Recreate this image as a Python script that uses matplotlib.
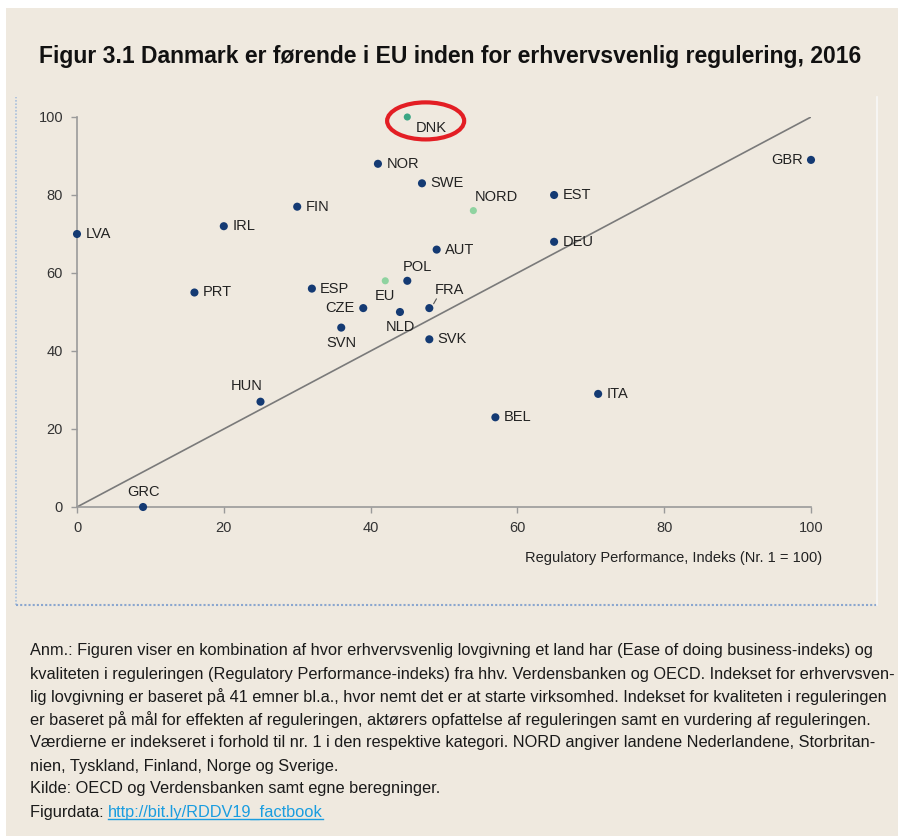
import matplotlib
matplotlib.use('Agg')
import matplotlib.pyplot as plt
from matplotlib.patches import Ellipse, Rectangle
import numpy as np

plt.rcParams['font.family'] = ['Liberation Sans', 'DejaVu Sans']

# data
countries = ['DNK', 'NOR', 'SWE', 'NORD', 'EST', 'DEU', 'GBR', 'FIN', 'IRL', 'LVA',
             'AUT', 'POL', 'EU', 'ESP', 'PRT', 'CZE', 'NLD', 'FRA', 'SVN', 'SVK',
             'HUN', 'BEL', 'ITA', 'GRC']
reg_perf = [45, 41, 47, 54, 65, 65, 100, 30, 20, 0,
            49, 45, 42, 32, 16, 39, 44, 48, 36, 48,
            25, 57, 71, 9]
ease_business = [100, 88, 83, 76, 80, 68, 89, 77, 72, 70,
                 66, 58, 58, 56, 55, 51, 50, 51, 46, 43,
                 27, 23, 29, 0]

title = 'Figur 3.1 Danmark er førende i EU inden for erhvervsvenlig regulering, 2016'
xlabel = 'Regulatory Performance, Indeks (Nr. 1 = 100)'
note_lines = [
    'Anm.: Figuren viser en kombination af hvor erhvervsvenlig lovgivning et land har (Ease of doing business-indeks) og',
    'kvaliteten i reguleringen (Regulatory Performance-indeks) fra hhv. Verdensbanken og OECD. Indekset for erhvervsven-',
    'lig lovgivning er baseret på 41 emner bl.a., hvor nemt det er at starte virksomhed. Indekset for kvaliteten i reguleringen',
    'er baseret på mål for effekten af reguleringen, aktørers opfattelse af reguleringen samt en vurdering af reguleringen.',
    'Værdierne er indekseret i forhold til nr. 1 i den respektive kategori. NORD angiver landene Nederlandene, Storbritan-',
    'nien, Tyskland, Finland, Norge og Sverige.',
    'Kilde: OECD og Verdensbanken samt egne beregninger.',
]
link_text = 'http://bit.ly/RDDV19_factbook'

# styling
bg = '#efe9df'
navy = '#143a73'
light_green = '#8fd3a0'
teal = '#3aa684'
special_color = {'DNK': teal, 'NORD': light_green, 'EU': light_green}
note_font = ['Liberation Sans Narrow', 'Liberation Sans']
note_size = 11.8

# label offsets in points (dx, dy, ha, va)
label_pos = {
    'DNK': (6, -3, 'left', 'top'), 'NOR': (6, 0, 'left', 'center'),
    'SWE': (6, 0, 'left', 'center'), 'NORD': (1, 5, 'left', 'bottom'),
    'EST': (6, 0, 'left', 'center'), 'DEU': (6, 0, 'left', 'center'),
    'GBR': (-6, 0, 'right', 'center'), 'FIN': (6, 0, 'left', 'center'),
    'IRL': (6, 0, 'left', 'center'), 'LVA': (6, 0, 'left', 'center'),
    'AUT': (6, 0, 'left', 'center'), 'POL': (-3, 5, 'left', 'bottom'),
    'EU': (0, -6, 'center', 'top'), 'ESP': (6, 0, 'left', 'center'),
    'PRT': (6, 0, 'left', 'center'), 'CZE': (-6, 0, 'right', 'center'),
    'NLD': (0, -6, 'center', 'top'), 'FRA': (4, 8, 'left', 'bottom'),
    'SVN': (0, -6, 'center', 'top'), 'SVK': (6, 0, 'left', 'center'),
    'HUN': (-10, 6, 'center', 'bottom'), 'BEL': (6, 0, 'left', 'center'),
    'ITA': (6, 0, 'left', 'center'), 'GRC': (0, 6, 'center', 'bottom'),
}

fig = plt.figure(figsize=(8.98, 8.36), dpi=100, facecolor=bg)

# white margins at top and left of the page
fig.patches.append(Rectangle((0, 1 - 8 / 836), 1, 8 / 836, transform=fig.transFigure,
                             facecolor='white', edgecolor='none', zorder=0))
fig.patches.append(Rectangle((0, 0), 6 / 898, 1, transform=fig.transFigure,
                             facecolor='white', edgecolor='none', zorder=0))

# dotted frame around chart
x0, x1 = 16 / 898, 877 / 898
y0, y1 = 1 - 605 / 836, 1 - 97 / 836
fig.add_artist(plt.Line2D([x0, x0], [y0, y1], transform=fig.transFigure,
                          color='#a9c0dd', lw=1.2, ls=(0, (1, 1))))
fig.add_artist(plt.Line2D([x0, x1], [y0, y0], transform=fig.transFigure,
                          color='#8aa6cf', lw=1.5, ls=(0, (1, 1))))
fig.add_artist(plt.Line2D([x1, x1], [y0, y1], transform=fig.transFigure,
                          color='#f8f8f8', lw=1.2))

fig.text(450 / 898, 1 - 57 / 836, title, ha='center', va='center',
         fontsize=16.5, fontweight='bold', color='#111111')

ax = fig.add_axes([77 / 898, 1 - 507 / 836, (811 - 77) / 898, (507 - 117) / 836])
ax.set_facecolor(bg)
ax.set_xlim(0, 100)
ax.set_ylim(0, 100)
ax.set_xticks(np.arange(0, 101, 20))
ax.set_yticks(np.arange(0, 101, 20))
for s in ['top', 'right']:
    ax.spines[s].set_visible(False)
for s in ['left', 'bottom']:
    ax.spines[s].set_color('#9a9a9a')
    ax.spines[s].set_linewidth(1.2)
ax.tick_params(axis='both', length=4, width=1, color='#9a9a9a', labelsize=10.5,
               labelcolor='#333333', pad=6)

ax.plot([0, 100], [0, 100], color='#7a7a7a', lw=1.2, zorder=1)

colors = [special_color.get(c, navy) for c in countries]
sizes = [26 if c in special_color else 34 for c in countries]
ax.scatter(reg_perf, ease_business, s=sizes, c=colors, zorder=3, clip_on=False,
           edgecolors='none')

for c, x, y in zip(countries, reg_perf, ease_business):
    dx, dy, ha, va = label_pos[c]
    ax.annotate(c, (x, y), xytext=(dx, dy), textcoords='offset points', ha=ha, va=va,
                fontsize=10.5, color='#222222', zorder=4, annotation_clip=False)

# leader line for FRA
ax.annotate('', xy=(reg_perf[countries.index('FRA')] + 0.4, ease_business[countries.index('FRA')] + 0.5),
            xytext=(4, 7), textcoords='offset points',
            arrowprops=dict(arrowstyle='-', color='#555555', lw=0.8))

# red ellipse around DNK
ax.add_patch(Ellipse((47.5, 99), 10.5, 9.5, fill=False, edgecolor='#e31e24', lw=3,
                     clip_on=False, zorder=5))

ax.set_xlabel(xlabel, fontsize=10.5, color='#222222')
ax.xaxis.set_label_coords(1.015, -0.113, transform=ax.transAxes)
ax.xaxis.label.set_ha('right')

# notes
for i, line in enumerate(note_lines):
    fig.text(30 / 898, 1 - (651 + i * 23) / 836, line, ha='left', va='center',
             fontsize=note_size, color='#1a1a1a', family=note_font)
ly = 1 - (651 + len(note_lines) * 23) / 836
t = fig.text(30 / 898, ly, 'Figurdata: ', ha='left', va='center', fontsize=note_size,
             color='#1a1a1a', family=note_font)
fig.canvas.draw()
bb = t.get_window_extent()
t2 = fig.text(bb.x1 / fig.bbox.width, ly, link_text, ha='left', va='center',
              fontsize=note_size, color='#1a9de0', family=note_font)
fig.canvas.draw()
bb2 = t2.get_window_extent()
fig.add_artist(plt.Line2D([bb2.x0 / fig.bbox.width, bb2.x1 / fig.bbox.width],
                          [(bb2.y0 + 1) / fig.bbox.height] * 2, transform=fig.transFigure,
                          color='#1a9de0', lw=1))

fig.savefig('out.png', dpi=100, facecolor=bg)
